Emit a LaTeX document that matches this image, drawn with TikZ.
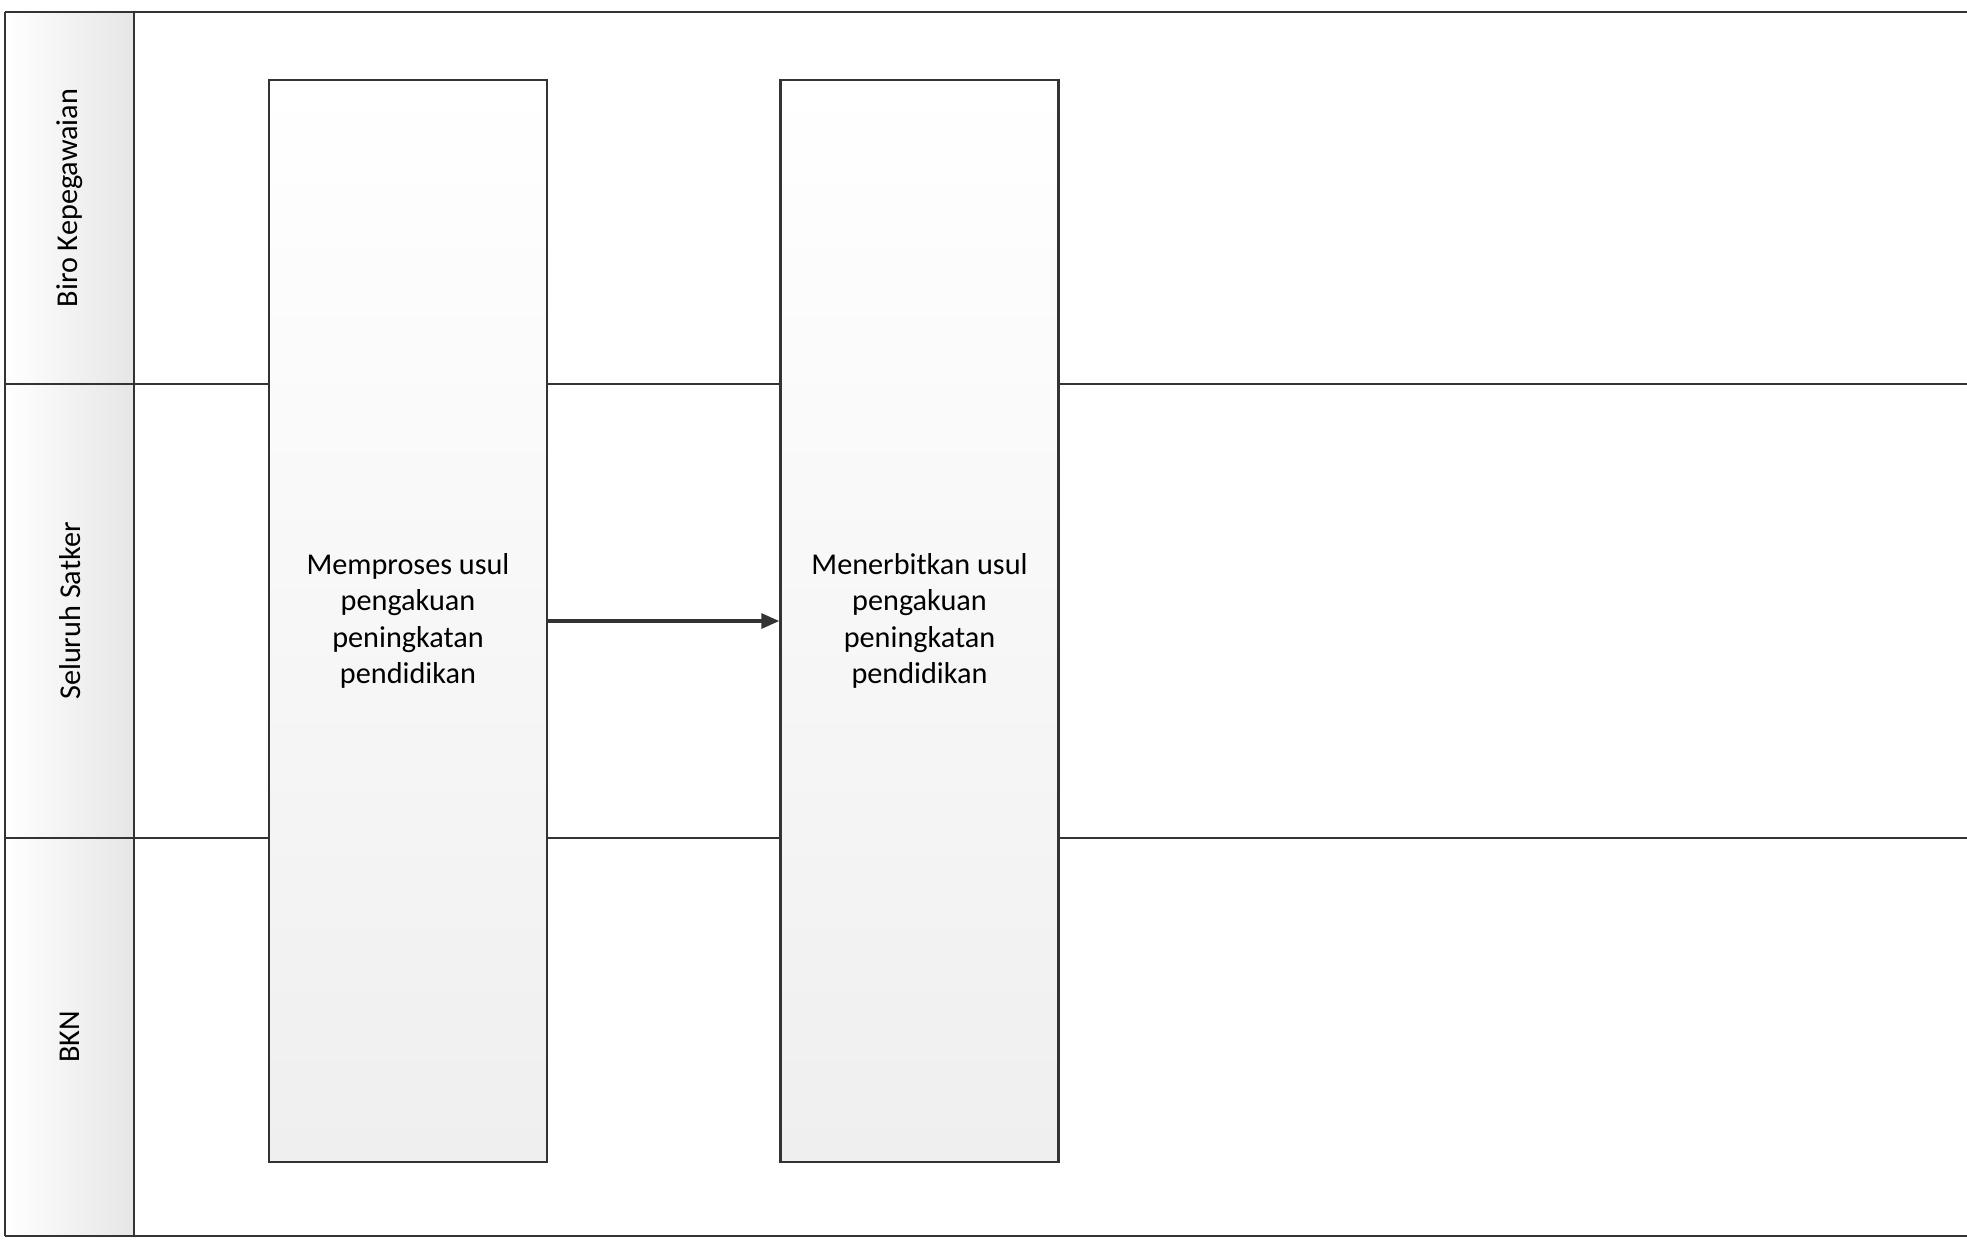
\documentclass[tikz,border=0pt]{standalone}
\usepackage{fontspec}
\setmainfont{Carlito}
\usepackage{tikz}
\usetikzlibrary{arrows.meta, positioning}
\definecolor{flowline}{HTML}{333333}
\definecolor{lanegray}{HTML}{E6E6E6}
\definecolor{boxgray}{HTML}{EFEFEF}

\begin{document}
\begin{tikzpicture}[
  every node/.style={font=\fontsize{8.6}{10.4}\selectfont},
  lane/.style={draw=flowline, line width=0.7pt},
  lanehead/.style={rotate=90, anchor=center},
  proc/.style={draw=flowline, line width=0.7pt, top color=white, bottom color=boxgray,
               minimum width=2.78cm, minimum height=10.82cm, align=center, inner sep=0pt},
  flow/.style={-{Triangle[length=1.8mm, width=1.5mm]}, line width=0.9pt, color=flowline},
]

\useasboundingbox (0,0) rectangle (19.67,-12.43);

% swimlane frame
\fill[left color=white, right color=lanegray] (0.05,-0.12) rectangle (1.34,-12.36);
\draw[lane] (0.05,-0.12) -- (19.67,-0.12);
\draw[lane] (0.05,-3.84) -- (19.67,-3.84);
\draw[lane] (0.05,-8.38) -- (19.67,-8.38);
\draw[lane] (0.05,-12.36) -- (19.67,-12.36);
\draw[lane] (0.05,-0.12) -- (0.05,-12.36);
\draw[lane] (1.34,-0.12) -- (1.34,-12.36);

\node[lanehead] (biro)   at (0.70,-1.98)  {Biro Kepegawaian};
\node[lanehead] (satker) at (0.70,-6.11)  {Seluruh Satker};
\node[lanehead] (bkn)    at (0.70,-10.37) {BKN};

% activities
\node[proc] (proses) at (4.08,-6.21)  {Memproses usul\\pengakuan\\peningkatan\\pendidikan};
\node[proc] (terbit) at (9.195,-6.21) {Menerbitkan usul\\pengakuan\\peningkatan\\pendidikan};

\draw[flow] (proses) -- (terbit);

\end{tikzpicture}
\end{document}
